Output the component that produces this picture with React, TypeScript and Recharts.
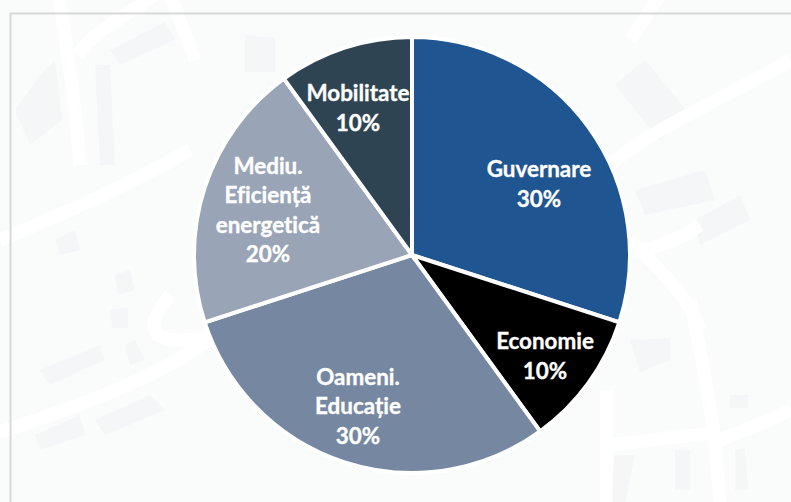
import { Cell, Pie, PieChart } from "recharts";

const categories = [["Guvernare"], ["Economie"], ["Oameni.", "Educație"], ["Mediu.", "Eficiență", "energetică"], ["Mobilitate"]];
const shares = [30, 10, 30, 20, 10];
const colors = ["#1f5591", "#000000", "#7688a1", "#99a5b6", "#2f4453"];

// label centres relative to the pie centre
const labelOffsets = [
  [127, -72],
  [133, 100],
  [-54, 150],
  [-144, -46],
  [-54, -148]
];

const data = categories.map((lines, i) => ({ lines, value: shares[i] }));

// faint street map behind the chart
const roads = [
  "M58 -5 C68 50 76 110 80 165",
  "M155 -5 C120 20 95 30 78 55",
  "M170 -5 L195 60",
  "M0 240 C60 215 120 190 190 150",
  "M0 432 C100 400 170 370 215 335",
  "M660 -5 L630 40",
  "M791 60 C720 100 650 130 610 165",
  "M690 300 C700 350 715 420 720 502",
  "M720 440 C745 430 770 420 791 410",
  "M610 445 L720 432",
  "M607 390 L606 502",
  "M630 240 C670 280 690 300 700 330",
  "M170 295 C140 330 150 350 215 335",
  "M620 255 C650 250 680 240 700 225"
];
const blocks = [
  "M40 75 L55 60 L62 120 L30 145 L15 110 Z",
  "M95 65 L110 65 L115 165 L100 165 Z",
  "M245 35 L275 38 L275 72 L245 72 Z",
  "M110 50 L165 22 L175 40 L120 65 Z",
  "M615 85 L645 60 L690 115 L660 140 Z",
  "M635 190 L705 170 L715 200 L645 215 Z",
  "M695 220 L740 195 L750 220 L700 245 Z",
  "M630 340 L670 338 L670 360 L640 372 Z",
  "M730 395 L748 395 L748 408 L730 408 Z",
  "M675 450 L690 450 L690 490 L675 490 Z",
  "M615 455 L635 455 L625 502 L610 502 Z",
  "M735 450 L745 448 L748 490 L735 490 Z",
  "M40 370 L100 345 L105 360 L50 385 Z",
  "M125 345 L135 340 L145 360 L130 365 Z",
  "M35 435 L80 415 L85 435 L40 450 Z",
  "M95 420 L150 395 L165 410 L105 435 Z",
  "M115 275 L130 270 L135 290 L118 295 Z",
  "M110 310 L128 308 L128 328 L112 328 Z",
  "M55 240 L75 230 L80 250 L60 255 Z"
];

function renderLabel(props: any) {
  const { cx, cy, index } = props;
  const [dx, dy] = labelOffsets[index];
  const lines = [...categories[index], `${shares[index]}%`];
  const lineHeight = 29.5;
  const top = cy + dy - ((lines.length - 1) * lineHeight) / 2;
  return (
    <text
      x={cx + dx}
      y={top}
      fill="#ffffff"
      stroke="#ffffff"
      strokeWidth={0.35}
      textAnchor="middle"
      dominantBaseline="central"
      style={{ fontFamily: "Lato, 'Open Sans', sans-serif", fontWeight: 700, fontSize: 22.4, fontVariantLigatures: "none" }}
    >
      {lines.map((line, i) => (
        <tspan key={line} x={cx + dx} y={top + i * lineHeight} dominantBaseline="central">
          {line}
        </tspan>
      ))}
    </text>
  );
}

export default function App() {
  return (
    <div style={{ position: "absolute", left: 0, top: 0, width: 791, height: 502, overflow: "hidden", background: "#fafbfb" }}>
      <svg width={791} height={502} style={{ position: "absolute", left: 0, top: 0 }}>
        {blocks.map((d) => (
          <path key={d} d={d} fill="#f5f6f8" />
        ))}
        {roads.map((d) => (
          <path key={d} d={d} fill="none" stroke="#ffffff" strokeWidth={13} />
        ))}
        <path d="M10.5 502 L10.5 13.5 L791 13.5" fill="none" stroke="#d9d9d9" strokeWidth={2} />
      </svg>
      <div style={{ position: "absolute", left: 0, top: 0 }}>
        <PieChart width={791} height={502} margin={{ top: 0, right: 0, bottom: 0, left: 0 }}>
          <Pie
            data={data}
            dataKey="value"
            cx={412}
            cy={255}
            outerRadius={218}
            startAngle={90}
            endAngle={-270}
            stroke="#ffffff"
            strokeWidth={4}
            label={renderLabel}
            labelLine={false}
            isAnimationActive={false}
          >
            {data.map((entry, i) => (
              <Cell key={entry.lines[0]} fill={colors[i]} />
            ))}
          </Pie>
        </PieChart>
      </div>
    </div>
  );
}
